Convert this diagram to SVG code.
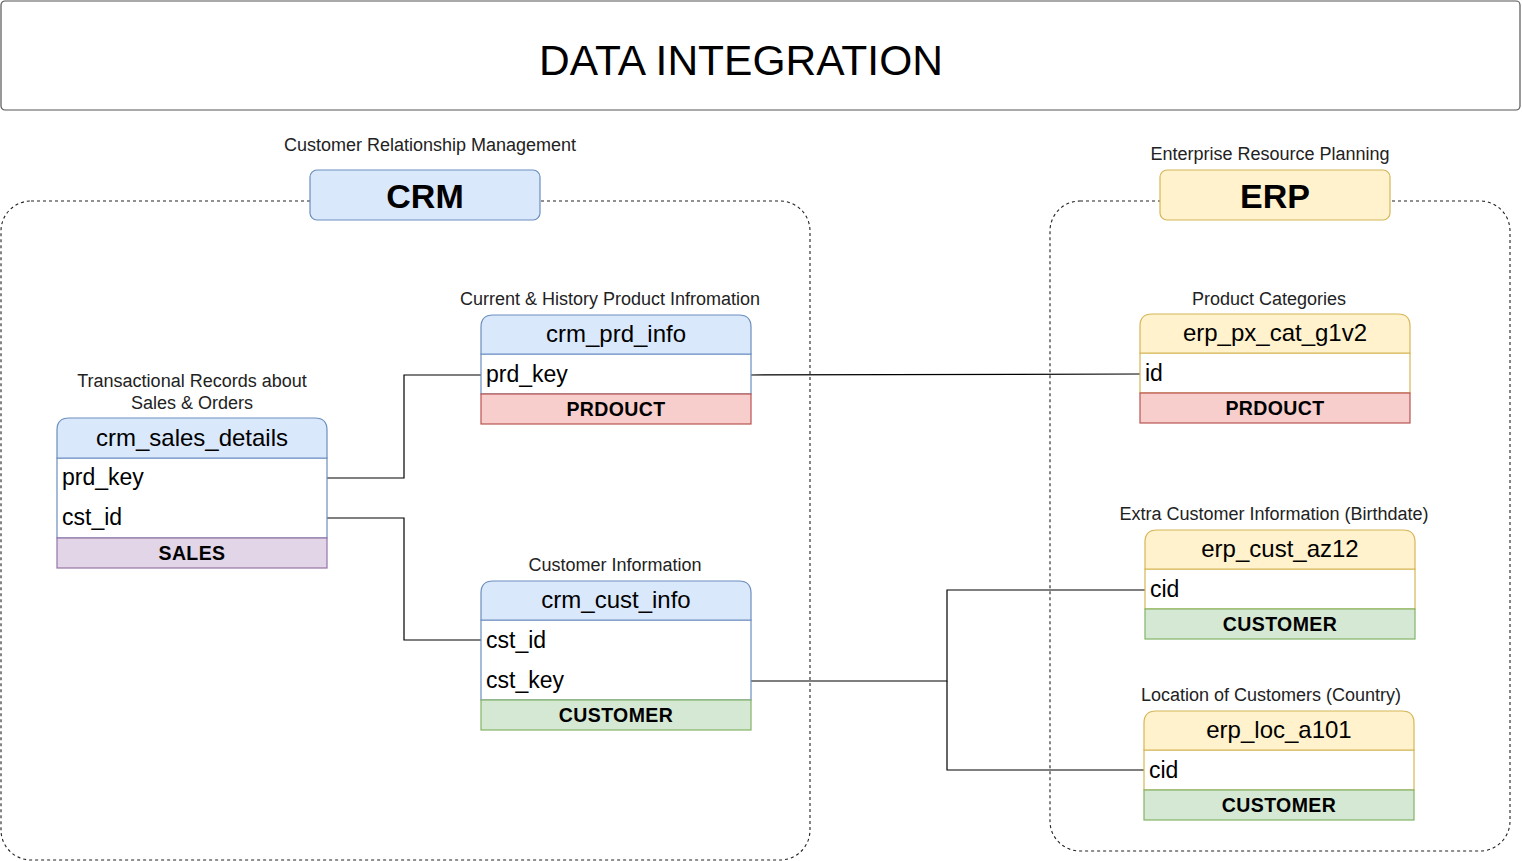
<svg xmlns="http://www.w3.org/2000/svg" width="1522" height="861" viewBox="0 0 1522 861">
<style>
text{font-family:"Liberation Sans",Arial,sans-serif;fill:#000}
.lbl{font-size:18px;fill:#222;text-anchor:middle}
.hdr{font-size:24px;text-anchor:middle}
.row{font-size:23px}
.ftr{font-size:19.5px;font-weight:bold;text-anchor:middle;letter-spacing:0.4px}
.big{font-size:34px;font-weight:bold;text-anchor:middle}
.cont{fill:none;stroke:#222;stroke-width:1.1;stroke-dasharray:3 3}
.conn{fill:none;stroke:#000;stroke-width:1.2}
.bh{fill:#dae8fc;stroke:#6c8ebf;stroke-width:1.2}
.bb{fill:#fff;stroke:#6c8ebf;stroke-width:1.2}
.yh{fill:#fff2cc;stroke:#d6b656;stroke-width:1.2}
.yb{fill:#fff;stroke:#d6b656;stroke-width:1.2}
.red{fill:#f8cecc;stroke:#b85450;stroke-width:1.2}
.grn{fill:#d5e8d4;stroke:#82b366;stroke-width:1.2}
.pur{fill:#e1d5e7;stroke:#9673a6;stroke-width:1.2}
</style>

<g id="title">
<rect x="1" y="1" width="1519" height="109" rx="4" fill="#fff" stroke="#555" stroke-width="1.2"/>
<text x="741" y="75" font-size="42.5" text-anchor="middle">DATA INTEGRATION</text>
</g>

<g id="crm-container">
<rect class="cont" x="1" y="201" width="809" height="659" rx="30"/>
</g>
<g id="erp-container">
<rect class="cont" x="1050" y="201" width="460" height="650" rx="30"/>
</g>

<g id="crm-label">
<text class="lbl" x="430" y="151">Customer Relationship Management</text>
<rect x="310" y="170" width="230" height="50" rx="7" class="bh"/>
<text class="big" x="425" y="208">CRM</text>
</g>

<g id="erp-label">
<text class="lbl" x="1270" y="160">Enterprise Resource Planning</text>
<rect x="1160" y="170" width="230" height="50" rx="7" class="yh"/>
<text class="big" x="1275" y="208">ERP</text>
</g>

<g id="connectors">
<polyline class="conn" points="327,478 404,478 404,375 481,375"/>
<polyline class="conn" points="327,518 404,518 404,640 481,640"/>
<line class="conn" x1="751" y1="375" x2="1140" y2="374"/>
<polyline class="conn" points="751,681 947,681 947,590 1145,590"/>
<polyline class="conn" points="947,681 947,770 1144,770"/>
</g>

<g id="crm_sales_details">
<text class="lbl" x="192" y="387">Transactional Records about</text>
<text class="lbl" x="192" y="409">Sales &amp; Orders</text>
<rect x="57" y="458" width="270" height="80" class="bb"/>
<path d="M57,458 V430 Q57,418 69,418 H315 Q327,418 327,430 V458 Z" class="bh"/>
<text class="hdr" x="192" y="446">crm_sales_details</text>
<text class="row" x="62" y="485">prd_key</text>
<text class="row" x="62" y="525">cst_id</text>
<rect x="57" y="538" width="270" height="30" class="pur"/>
<text class="ftr" x="192" y="560">SALES</text>
</g>

<g id="crm_prd_info">
<text class="lbl" x="610" y="305">Current &amp; History Product Infromation</text>
<rect x="481" y="354" width="270" height="40" class="bb"/>
<path d="M481,354 V327 Q481,315 493,315 H739 Q751,315 751,327 V354 Z" class="bh"/>
<text class="hdr" x="616" y="342">crm_prd_info</text>
<text class="row" x="486" y="382">prd_key</text>
<rect x="481" y="394" width="270" height="30" class="red"/>
<text class="ftr" x="616" y="416">PRDOUCT</text>
</g>

<g id="crm_cust_info">
<text class="lbl" x="615" y="571">Customer Information</text>
<rect x="481" y="620" width="270" height="80" class="bb"/>
<path d="M481,620 V593 Q481,581 493,581 H739 Q751,581 751,593 V620 Z" class="bh"/>
<text class="hdr" x="616" y="608">crm_cust_info</text>
<text class="row" x="486" y="648">cst_id</text>
<text class="row" x="486" y="688">cst_key</text>
<rect x="481" y="700" width="270" height="30" class="grn"/>
<text class="ftr" x="616" y="722">CUSTOMER</text>
</g>

<g id="erp_px_cat_g1v2">
<text class="lbl" x="1269" y="305">Product Categories</text>
<rect x="1140" y="353" width="270" height="40" class="yb"/>
<path d="M1140,353 V326 Q1140,314 1152,314 H1398 Q1410,314 1410,326 V353 Z" class="yh"/>
<text class="hdr" x="1275" y="341">erp_px_cat_g1v2</text>
<text class="row" x="1145" y="381">id</text>
<rect x="1140" y="393" width="270" height="30" class="red"/>
<text class="ftr" x="1275" y="415">PRDOUCT</text>
</g>

<g id="erp_cust_az12">
<text class="lbl" x="1274" y="520">Extra Customer Information (Birthdate)</text>
<rect x="1145" y="569" width="270" height="40" class="yb"/>
<path d="M1145,569 V542 Q1145,530 1157,530 H1403 Q1415,530 1415,542 V569 Z" class="yh"/>
<text class="hdr" x="1280" y="557">erp_cust_az12</text>
<text class="row" x="1150" y="597">cid</text>
<rect x="1145" y="609" width="270" height="30" class="grn"/>
<text class="ftr" x="1280" y="631">CUSTOMER</text>
</g>

<g id="erp_loc_a101">
<text class="lbl" x="1271" y="701">Location of Customers (Country)</text>
<rect x="1144" y="750" width="270" height="40" class="yb"/>
<path d="M1144,750 V723 Q1144,711 1156,711 H1402 Q1414,711 1414,723 V750 Z" class="yh"/>
<text class="hdr" x="1279" y="738">erp_loc_a101</text>
<text class="row" x="1149" y="778">cid</text>
<rect x="1144" y="790" width="270" height="30" class="grn"/>
<text class="ftr" x="1279" y="812">CUSTOMER</text>
</g>
</svg>
